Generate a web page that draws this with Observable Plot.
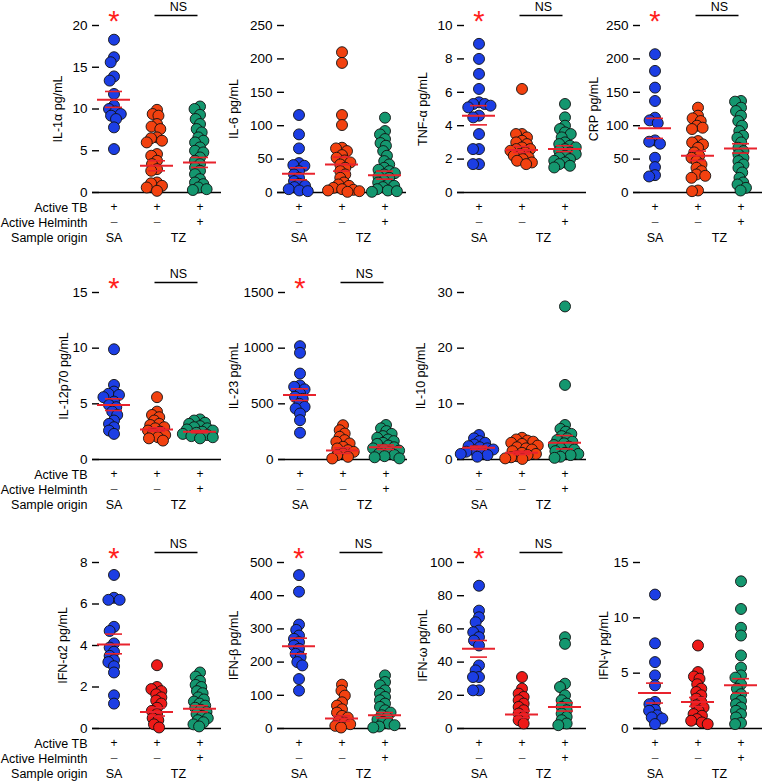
<!DOCTYPE html>
<html><head><meta charset="utf-8">
<script src="https://cdn.jsdelivr.net/npm/d3@7"></script>
<script src="https://cdn.jsdelivr.net/npm/@observablehq/plot@0.6"></script>
<style>
body{margin:0;background:#fff;}
#chart{position:relative;width:765px;height:782px;overflow:hidden;background:#fff;font-family:"Liberation Sans",Arial,sans-serif;}
#chart svg{position:absolute;overflow:visible;}
</style></head><body><div id="chart"></div>
<script>
// ---------- categories / table labels ----------
const groups = ["SA", "TZ-", "TZ+"];
const activeTB = ["+", "+", "+"];
const activeHelminth = ["\u2013", "\u2013", "+"];
const sampleOrigin = ["SA", "TZ"];
const rowLabels = ["Active TB", "Active Helminth", "Sample origin"];

// ---------- IL-1α ----------
const il1a_SA = [18.3, 16.2, 15.6, 13.9, 13.4, 11.8, 10.4, 10.0, 9.7, 9.4, 9.2, 8.8, 7.8, 5.2];
const il1a_TZ = [9.9, 9.4, 9.2, 8.2, 7.9, 7.6, 6.6, 6.5, 6.2, 6.0, 4.6, 4.4, 3.8, 3.4, 2.8, 2.6, 1.2, 1.1, 0.8, 0.6, 0.2];
const il1a_TZH = [10.3, 10.0, 9.3, 8.8, 8.2, 7.6, 7.2, 6.6, 6.2, 6.0, 5.4, 5.0, 4.8, 4.2, 3.8, 3.4, 3.0, 2.6, 2.2, 1.6, 1.2, 1.0, 0.6, 0.4, 0.3];
const il1a_mean = [11.1, 3.2, 3.6], il1a_lo = [10.2, 2.6, 3.0], il1a_hi = [12.1, 3.8, 4.2];
const il1a_ticks = [0, 5, 10, 15, 20];
// ---------- IL-6 ----------
const il6_SA = [116, 87, 66, 44, 41, 40, 32, 27, 22, 17, 13, 10, 8, 5, 3, 2];
const il6_TZ = [210, 194, 116, 101, 67, 66, 62, 56, 52, 48, 45, 42, 37, 32, 27, 22, 15, 12, 10, 7, 5, 4, 3, 2, 1];
const il6_TZH = [112, 92, 87, 80, 74, 70, 62, 55, 47, 42, 37, 34, 32, 29, 27, 24, 22, 18, 15, 12, 10, 8, 5, 3, 2, 1];
const il6_mean = [28, 42, 26], il6_lo = [19, 32, 20], il6_hi = [37, 53, 32];
const il6_ticks = [0, 50, 100, 150, 200, 250];
// ---------- TNF-α ----------
const tnf_SA = [8.9, 8.0, 7.1, 6.2, 5.4, 5.3, 5.3, 5.2, 5.1, 4.6, 4.5, 3.5, 2.6, 2.6, 1.7, 1.7];
const tnf_TZ = [6.2, 3.5, 3.5, 3.3, 3.1, 3.0, 2.9, 2.7, 2.6, 2.6, 2.5, 2.4, 2.3, 2.2, 2.1, 2.0, 1.9, 1.8, 1.7];
const tnf_TZH = [5.3, 4.5, 4.0, 3.8, 3.6, 3.5, 3.3, 3.0, 2.9, 2.8, 2.7, 2.6, 2.5, 2.4, 2.3, 2.2, 2.1, 2.0, 1.9, 1.8, 1.7, 1.6, 1.5];
const tnf_mean = [4.6, 2.55, 2.6], tnf_lo = [4.05, 2.4, 2.45], tnf_hi = [5.2, 2.75, 2.8];
const tnf_ticks = [0, 2, 4, 6, 8, 10];
// ---------- CRP ----------
const crp_SA = [207, 182, 157, 137, 112, 108, 104, 78, 76, 73, 52, 38, 26, 24];
const crp_TZ = [127, 115, 111, 107, 100, 97, 95, 77, 75, 72, 67, 60, 55, 52, 47, 42, 37, 32, 27, 25, 22, 3, 2];
const crp_TZH = [137, 136, 127, 122, 115, 107, 100, 92, 85, 82, 75, 67, 62, 57, 52, 47, 42, 37, 30, 22, 15, 12, 7, 3];
const crp_mean = [96, 55, 66], crp_lo = [81, 48, 59], crp_hi = [111, 62, 73];
const crp_ticks = [0, 50, 100, 150, 200, 250];
// ---------- IL-12p70 ----------
const il12_SA = [9.9, 6.7, 6.1, 5.9, 5.8, 5.6, 5.2, 4.9, 4.7, 4.3, 4.0, 3.5, 3.2, 2.9, 2.6, 2.3];
const il12_TZ = [5.6, 4.3, 4.0, 3.8, 3.5, 3.2, 3.1, 2.9, 2.8, 2.6, 2.5, 2.3, 2.2, 2.0, 1.9, 1.7];
const il12_TZH = [3.6, 3.5, 3.3, 3.2, 3.0, 2.9, 2.8, 2.7, 2.6, 2.5, 2.4, 2.3, 2.2, 2.1, 2.0, 1.9];
const il12_mean = [4.9, 2.7, 2.5], il12_lo = [4.4, 2.55, 2.4], il12_hi = [5.45, 2.85, 2.6];
const il12_ticks = [0, 5, 10, 15];
// ---------- IL-23 ----------
const il23_SA = [1018, 958, 772, 665, 653, 630, 593, 563, 545, 500, 473, 458, 413, 353, 240];
const il23_TZ = [308, 263, 233, 204, 174, 159, 144, 114, 99, 84, 69, 54, 39, 24, 9];
const il23_TZH = [310, 280, 255, 230, 210, 195, 180, 165, 150, 140, 125, 110, 100, 90, 80, 65, 55, 40, 30, 20, 10];
const il23_mean = [580, 80, 110], il23_lo = [530, 55, 90], il23_hi = [635, 105, 130];
const il23_ticks = [0, 500, 1000, 1500];
// ---------- IL-10 ----------
const il10_SA = [4.4, 3.8, 3.3, 3.0, 2.7, 2.4, 2.2, 2.0, 1.8, 1.6, 1.4, 1.2, 1.0, 0.8, 0.5];
const il10_TZ = [3.9, 3.6, 3.4, 3.2, 3.0, 2.8, 2.5, 2.2, 2.0, 1.8, 1.5, 1.2, 1.0, 0.8, 0.6, 0.4, 0.2, 0.1];
const il10_TZH = [27.5, 13.4, 6.2, 5.5, 5.0, 4.6, 4.2, 3.8, 3.5, 3.2, 2.9, 2.6, 2.3, 2.0, 1.8, 1.5, 1.2, 1.0, 0.8, 0.5, 0.3];
const il10_mean = [2.1, 1.2, 3.0], il10_lo = [1.8, 0.9, 1.9], il10_hi = [2.4, 1.5, 4.3];
const il10_ticks = [0, 10, 20, 30];
// ---------- IFN-α2 ----------
const ifna_SA = [7.4, 6.3, 6.2, 6.2, 4.9, 4.7, 4.1, 3.9, 3.7, 3.5, 3.3, 3.2, 3.0, 2.7, 1.6, 1.2];
const ifna_TZ = [3.05, 2.0, 1.9, 1.8, 1.65, 1.5, 1.35, 1.2, 1.0, 0.85, 0.7, 0.5, 0.4, 0.2, 0.05];
const ifna_TZH = [2.7, 2.5, 2.3, 2.1, 2.0, 1.8, 1.7, 1.5, 1.4, 1.3, 1.2, 1.1, 1.0, 0.9, 0.8, 0.7, 0.6, 0.5, 0.4, 0.3, 0.2, 0.1];
const ifna_mean = [4.05, 0.8, 0.95], ifna_lo = [3.6, 0.6, 0.8], ifna_hi = [4.55, 1.0, 1.1];
const ifna_ticks = [0, 2, 4, 6, 8];
// ---------- IFN-β ----------
const ifnb_SA = [462, 412, 313, 297, 280, 270, 260, 250, 240, 225, 215, 200, 190, 149, 114];
const ifnb_TZ = [132, 114, 99, 79, 69, 58, 48, 38, 33, 23, 18, 13, 8, 3];
const ifnb_TZH = [160, 140, 130, 115, 105, 95, 85, 75, 65, 55, 48, 40, 33, 27, 20, 15, 10, 6, 3];
const ifnb_mean = [248, 30, 40], ifnb_lo = [225, 22, 32], ifnb_hi = [272, 38, 48];
const ifnb_ticks = [0, 100, 200, 300, 400, 500];
// ---------- IFN-ω ----------
const ifnw_SA = [86, 71, 67, 64, 59, 58, 55, 53, 50, 38, 35, 31, 31, 23, 23];
const ifnw_TZ = [31, 24, 21, 19, 17, 15, 13, 11, 9, 7, 5, 3];
const ifnw_TZH = [55, 51, 27, 25, 20, 17, 15, 13, 11, 9, 7, 5, 3, 2];
const ifnw_mean = [48, 8.5, 13], ifnw_lo = [43, 6.5, 10.5], ifnw_hi = [53, 10.5, 15.5];
const ifnw_ticks = [0, 20, 40, 60, 80, 100];
// ---------- IFN-γ ----------
const ifng_SA = [12.1, 7.7, 6.0, 4.8, 3.9, 2.4, 2.2, 1.7, 1.6, 1.2, 1.0, 0.9, 0.4];
const ifng_TZ = [7.5, 5.1, 4.7, 4.5, 4.0, 3.6, 3.3, 3.0, 2.7, 2.4, 2.1, 1.9, 1.6, 1.3, 1.15, 0.85, 0.7, 0.55, 0.4];
const ifng_TZH = [13.3, 10.8, 9.1, 8.4, 6.6, 5.5, 4.8, 4.6, 4.0, 3.6, 3.1, 2.8, 2.5, 2.2, 1.9, 1.6, 1.3, 1.0, 0.5, 0.4];
const ifng_mean = [3.2, 2.4, 3.9], ifng_lo = [2.3, 2.0, 3.2], ifng_hi = [4.1, 2.8, 4.5];
const ifng_ticks = [0, 5, 10, 15];

const panels = [
  {label: "IL-1\u03b1 pg/mL", pts: [il1a_SA, il1a_TZ, il1a_TZH], mean: il1a_mean, lo: il1a_lo, hi: il1a_hi, ticks: il1a_ticks, sig: true},
  {label: "IL-6 pg/mL", pts: [il6_SA, il6_TZ, il6_TZH], mean: il6_mean, lo: il6_lo, hi: il6_hi, ticks: il6_ticks, sig: false},
  {label: "TNF-\u03b1 pg/mL", pts: [tnf_SA, tnf_TZ, tnf_TZH], mean: tnf_mean, lo: tnf_lo, hi: tnf_hi, ticks: tnf_ticks, sig: true},
  {label: "CRP pg/mL", pts: [crp_SA, crp_TZ, crp_TZH], mean: crp_mean, lo: crp_lo, hi: crp_hi, ticks: crp_ticks, sig: true},
  {label: "IL-12p70 pg/mL", pts: [il12_SA, il12_TZ, il12_TZH], mean: il12_mean, lo: il12_lo, hi: il12_hi, ticks: il12_ticks, sig: true},
  {label: "IL-23 pg/mL", pts: [il23_SA, il23_TZ, il23_TZH], mean: il23_mean, lo: il23_lo, hi: il23_hi, ticks: il23_ticks, sig: true},
  {label: "IL-10 pg/mL", pts: [il10_SA, il10_TZ, il10_TZH], mean: il10_mean, lo: il10_lo, hi: il10_hi, ticks: il10_ticks, sig: false},
  {label: "IFN-\u03b12 pg/mL", pts: [ifna_SA, ifna_TZ, ifna_TZH], mean: ifna_mean, lo: ifna_lo, hi: ifna_hi, ticks: ifna_ticks, sig: true},
  {label: "IFN-\u03b2 pg/mL", pts: [ifnb_SA, ifnb_TZ, ifnb_TZH], mean: ifnb_mean, lo: ifnb_lo, hi: ifnb_hi, ticks: ifnb_ticks, sig: true},
  {label: "IFN-\u03c9 pg/mL", pts: [ifnw_SA, ifnw_TZ, ifnw_TZH], mean: ifnw_mean, lo: ifnw_lo, hi: ifnw_hi, ticks: ifnw_ticks, sig: true},
  {label: "IFN-\u03b3 pg/mL", pts: [ifng_SA, ifng_TZ, ifng_TZH], mean: ifng_mean, lo: ifng_lo, hi: ifng_hi, ticks: ifng_ticks, sig: false}
];

// ---------- layout (pixels) & styles ----------
const ORANGE_RED = "#f2410f", PURE_RED = "#ee1a18";
const layout = [
  {x: 92,  y: 25,  h: 167, off: 35, first: true,  red: ORANGE_RED},
  {x: 277, y: 25,  h: 167, off: 44, first: false, red: ORANGE_RED},
  {x: 457, y: 25,  h: 167, off: 35, first: false, red: ORANGE_RED},
  {x: 633, y: 25,  h: 167, off: 40, first: false, red: ORANGE_RED},
  {x: 92,  y: 292, h: 167, off: 29, first: true,  red: ORANGE_RED},
  {x: 278, y: 292, h: 167, off: 45, first: false, red: ORANGE_RED},
  {x: 457, y: 292, h: 167, off: 37, first: false, red: ORANGE_RED},
  {x: 92,  y: 562, h: 166, off: 30, first: true,  red: PURE_RED},
  {x: 277, y: 562, h: 166, off: 44, first: false, red: ORANGE_RED},
  {x: 457, y: 562, h: 166, off: 35, first: false, red: PURE_RED},
  {x: 633, y: 562, h: 166, off: 30, first: false, red: PURE_RED}
];
const BLUE = "#1c3ee4", GREEN = "#14976f", BAR = "#e8232d";
const FW = 43, TB = 50, MT = 30, MB = 4, MR = 6;
const FONT = "'Liberation Sans', Arial, sans-serif";

function drawPanel(p, L) {
  const ML = L.first ? 100 : 64;
  const top = p.ticks[p.ticks.length - 1];
  const bottom = -top * TB / L.h;
  const col = {"SA": BLUE, "TZ-": L.red, "TZ+": GREEN};
  const pts = groups.flatMap((g, i) => p.pts[i].map(v => ({g, v, c: col[g]})));
  const stats = groups.map((g, i) => ({g, mean: p.mean[i], lo: p.lo[i], hi: p.hi[i]}));
  const tickData = p.ticks.map(v => ({g: "SA", v}));
  const txt = {fx: "g", text: "t", frameAnchor: "bottom", lineAnchor: "middle", textAnchor: "middle", fontSize: 12.5, fill: "#000"};
  const marks = [
    Plot.ruleY([0], {stroke: "#000", strokeWidth: 1.4}),
    Plot.ruleX([{g: "SA"}], {fx: "g", dx: -FW / 2, stroke: "#000", strokeWidth: 1.4}),
    Plot.ruleX([{g: "TZ-"}], {fx: "g", dx: -FW / 2, insetTop: L.h, stroke: "#000", strokeWidth: 1.4}),
    Plot.ruleX([{g: "TZ+"}], {fx: "g", dx: -FW / 2, insetTop: L.h, insetBottom: 21, stroke: "#000", strokeWidth: 1.4}),
    Plot.tickY(tickData, {fx: "g", y: "v", insetRight: FW - 7, stroke: "#000", strokeWidth: 1.4}),
    Plot.text(tickData, {fx: "g", y: "v", text: d => String(d.v), frameAnchor: "left", textAnchor: "end", lineAnchor: "middle", dx: -5, fontSize: 13.5, fill: "#000"}),
    Plot.dot(pts, Plot.dodgeX({anchor: "middle", padding: -5}, {fx: "g", y: "v", r: 5.5, fill: "c", stroke: "#111", strokeWidth: 0.9})),
    Plot.tickY(stats, {fx: "g", y: "mean", stroke: BAR, strokeWidth: 2, insetLeft: 5, insetRight: 5}),
    Plot.ruleX(stats, {fx: "g", y1: "lo", y2: "hi", stroke: BAR, strokeWidth: 1.6}),
    Plot.tickY(stats, {fx: "g", y: "lo", stroke: BAR, strokeWidth: 1.6, insetLeft: 13, insetRight: 13}),
    Plot.tickY(stats, {fx: "g", y: "hi", stroke: BAR, strokeWidth: 1.6, insetLeft: 13, insetRight: 13}),
    Plot.text(groups.map((g, i) => ({g, t: activeTB[i]})), {...txt, dy: -35, fontSize: 12}),
    Plot.text(groups.map((g, i) => ({g, t: activeHelminth[i]})), {...txt, dy: -20, fontSize: 12, fill: d => d.t === "+" ? "#000" : "#555"}),
    Plot.text([{g: "SA", t: sampleOrigin[0]}], {...txt, dy: -5}),
    Plot.text([{g: "TZ+", t: sampleOrigin[1]}], {...txt, dy: -5, dx: -FW / 2}),
    Plot.text([{g: "SA", t: p.label}], {fx: "g", text: "t", frameAnchor: "left", rotate: -90, textAnchor: "middle", lineAnchor: "middle", dx: -L.off, dy: -TB / 2, fontSize: 12.5, fill: "#000"})
  ];
  if (L.first) {
    rowLabels.forEach((t, i) => {
      marks.push(Plot.text([{g: "SA", t}], {fx: "g", text: "t", frameAnchor: "bottom-left", textAnchor: "end", lineAnchor: "middle", dx: -5, dy: -35 + 15 * i, fontSize: 12.5, fill: "#000"}));
    });
  }
  if (p.sig) {
    marks.push(
      Plot.text([{g: "SA", t: "*"}], {fx: "g", text: "t", frameAnchor: "top", lineAnchor: "middle", textAnchor: "middle", dy: -4, fontSize: 29, fill: "#ff1e1e"}),
      Plot.text([{g: "TZ+", t: "NS"}], {fx: "g", text: "t", frameAnchor: "top", lineAnchor: "middle", textAnchor: "middle", dx: -FW / 2, dy: -19, fontSize: 12.5, fill: "#000"}),
      Plot.ruleY([{g: "TZ-", y: top}], {fx: "g", y: "y", dy: -10, insetLeft: FW / 2 - 2, insetRight: -FW / 2 + 2, stroke: "#000", strokeWidth: 1.3})
    );
  }
  const svg = Plot.plot({
    width: ML + 3 * FW + MR,
    height: MT + L.h + TB + MB,
    marginLeft: ML, marginRight: MR, marginTop: MT, marginBottom: MB,
    style: {background: "transparent", overflow: "visible", fontFamily: FONT, fontSize: "12.5px", color: "#000"},
    fx: {domain: groups, padding: 0, axis: null, label: null},
    y: {domain: [bottom, top], axis: null},
    color: {type: "identity"},
    marks
  });
  svg.style.left = (L.x - ML) + "px";
  svg.style.top = (L.y - MT) + "px";
  document.getElementById("chart").appendChild(svg);
}
panels.forEach((p, i) => drawPanel(p, layout[i]));
</script></body></html>
